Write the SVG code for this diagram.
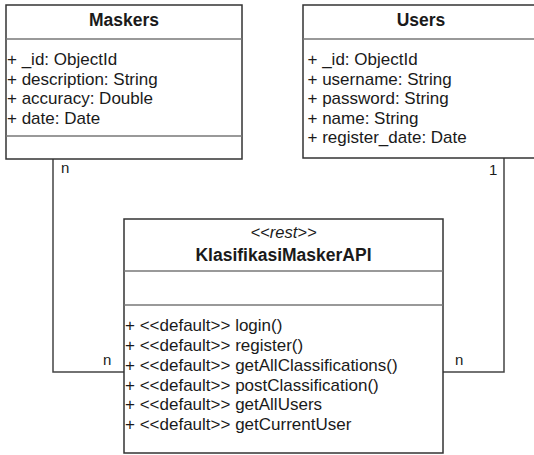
<svg xmlns="http://www.w3.org/2000/svg" width="534" height="455" viewBox="0 0 534 455">
<style>
.box{fill:#fff;stroke:#333;stroke-width:1.5}
.sep{stroke:#777;stroke-width:1.5}
.t{font-family:"Liberation Sans",Arial,sans-serif;font-size:17px;fill:#1a1a1a}
.title{font-family:"Liberation Sans",Arial,sans-serif;font-size:17.5px;font-weight:bold;fill:#1a1a1a;text-anchor:middle}
.st{font-family:"Liberation Sans",Arial,sans-serif;font-size:16.5px;font-style:italic;fill:#1a1a1a;text-anchor:middle}
.lbl{font-family:"Liberation Sans",Arial,sans-serif;font-size:15px;fill:#1a1a1a}
.conn{fill:none;stroke:#444;stroke-width:1.5}
</style>
<rect width="534" height="455" fill="#fff"/>
<g id="connectors">
<path class="conn" d="M53,159 V372 H124"/>
<path class="conn" d="M504,158 V372 H443"/>
<text class="lbl" x="61" y="173">n</text>
<text class="lbl" x="103" y="365">n</text>
<text class="lbl" x="489" y="175">1</text>
<text class="lbl" x="455" y="365">n</text>
</g>
<g id="Maskers">
<rect class="box" x="6" y="5" width="236" height="154"/>
<line class="sep" x1="6" y1="39" x2="242" y2="39"/>
<line class="sep" x1="6" y1="136" x2="242" y2="136"/>
<text class="title" x="124" y="26">Maskers</text>
<text class="t" x="7" y="65">+ _id: ObjectId</text>
<text class="t" x="7" y="84.5">+ description: String</text>
<text class="t" x="7" y="104">+ accuracy: Double</text>
<text class="t" x="7" y="123.5">+ date: Date</text>
</g>
<g id="Users">
<rect class="box" x="303" y="5" width="236" height="153"/>
<line class="sep" x1="303" y1="39" x2="539" y2="39"/>
<text class="title" x="421" y="26">Users</text>
<text class="t" x="307.5" y="65">+ _id: ObjectId</text>
<text class="t" x="307.5" y="84.5">+ username: String</text>
<text class="t" x="307.5" y="104">+ password: String</text>
<text class="t" x="307.5" y="123.5">+ name: String</text>
<text class="t" x="307.5" y="143">+ register_date: Date</text>
</g>
<g id="KlasifikasiMaskerAPI">
<rect class="box" x="124" y="219" width="319" height="234"/>
<line class="sep" x1="124" y1="271" x2="443" y2="271"/>
<line class="sep" x1="124" y1="305" x2="443" y2="305"/>
<text class="st" x="283.5" y="238">&lt;&lt;rest&gt;&gt;</text>
<text class="title" x="283.5" y="261">KlasifikasiMaskerAPI</text>
<text class="t" x="125" y="331">+ &lt;&lt;default&gt;&gt; login()</text>
<text class="t" x="125" y="351">+ &lt;&lt;default&gt;&gt; register()</text>
<text class="t" x="125" y="371">+ &lt;&lt;default&gt;&gt; getAllClassifications()</text>
<text class="t" x="125" y="390.5">+ &lt;&lt;default&gt;&gt; postClassification()</text>
<text class="t" x="125" y="410">+ &lt;&lt;default&gt;&gt; getAllUsers</text>
<text class="t" x="125" y="430">+ &lt;&lt;default&gt;&gt; getCurrentUser</text>
</g>
</svg>
